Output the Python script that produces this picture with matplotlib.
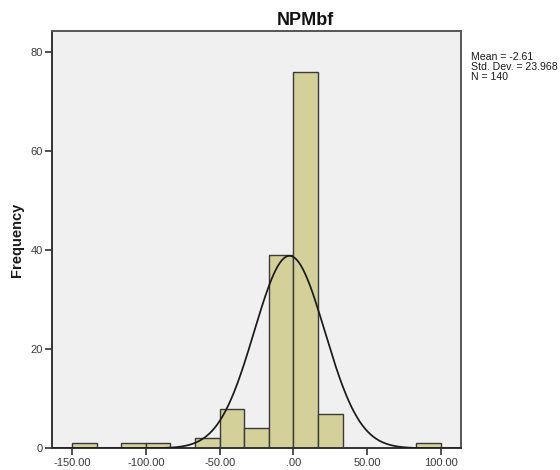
import numpy as np
import matplotlib
matplotlib.use("Agg")
import matplotlib.pyplot as plt

plt.rcParams['font.family'] = ['Liberation Sans', 'DejaVu Sans']

# Data
title = "NPMbf"
bin_width = 50 / 3
bin_starts = [-150.0, -116.667, -100.0, -66.667, -50.0, -33.333, -16.667, 0.0, 16.667, 83.333]
counts = [1, 1, 1, 2, 8, 4, 39, 76, 7, 1]
mean_val = -2.61
std_val = 23.968
n_val = 140
x_ticks = [-150, -100, -50, 0, 50, 100]
x_tick_labels = ["-150.00", "-100.00", "-50.00", ".00", "50.00", "100.00"]
y_ticks = [0, 20, 40, 60, 80]

fig = plt.figure(figsize=(5.6, 4.7), dpi=100)
ax = fig.add_axes([0.0934, 0.0462, 0.7306, 0.8878])
ax.set_facecolor('#f0f0f0')

ax.bar(bin_starts, counts, width=bin_width, align='edge',
       color='#d4d09a', edgecolor='#3a3a3a', linewidth=1.0, zorder=2)

xlim = (-163.5, 114.0)
xs = np.linspace(xlim[0], xlim[1], 600)
ys = n_val * bin_width / (std_val * np.sqrt(2 * np.pi)) * np.exp(-0.5 * ((xs - mean_val) / std_val) ** 2)
ax.plot(xs, ys, color='#1a1a1a', linewidth=1.25, zorder=3)

ax.set_xlim(*xlim)
ax.set_ylim(0, 84.2)
ax.set_xticks(x_ticks)
ax.set_xticklabels(x_tick_labels)
ax.set_yticks(y_ticks)
ax.tick_params(axis='both', direction='out', length=5, width=1.2, color='#333333',
               labelsize=8, labelcolor='#3a3a3a', pad=2)

for s in ax.spines.values():
    s.set_color('#555555')
    s.set_linewidth(1.4)
ax.spines['left'].set_color('#333333')
ax.spines['bottom'].set_color('#333333')

ax.set_ylabel("Frequency", fontsize=10.5, fontweight='bold', color='#1a1a1a')
ax.yaxis.set_label_coords(-0.07, 0.5)

fig.text(0.545, 0.947, title, ha='center', va='baseline', fontsize=13, fontweight='bold', color='#111111')

fig.text(0.841, 0.889, f"Mean = {mean_val}\nStd. Dev. = {std_val}\nN = {n_val}",
         ha='left', va='top', fontsize=7.6, color='#1a1a1a', linespacing=1.0)

fig.savefig("out.png", dpi=100, facecolor='white')
